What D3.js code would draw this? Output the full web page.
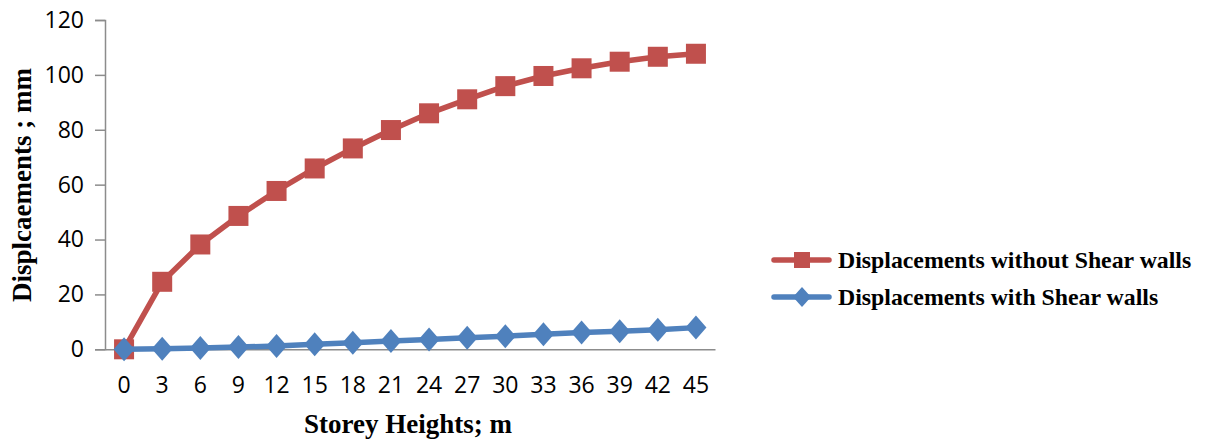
<!DOCTYPE html>
<html><head><meta charset="utf-8">
<script src="https://cdn.jsdelivr.net/npm/d3@7"></script>
<style>body{margin:0;background:#fff}svg{display:block}</style>
</head><body>
<svg id="c" width="1211" height="443"></svg>
<script>
const categories = ["0","3","6","9","12","15","18","21","24","27","30","33","36","39","42","45"];
const withoutWalls = [0, 24.6, 38.2, 48.6, 57.7, 65.9, 73.2, 79.9, 86.0, 91.1, 95.9, 99.6, 102.4, 104.8, 106.6, 107.7];
const withWalls = [0, 0.2, 0.5, 0.8, 1.2, 1.8, 2.4, 3.0, 3.6, 4.2, 4.8, 5.5, 6.1, 6.6, 7.1, 7.9];
const yTicks = [0, 20, 40, 60, 80, 100, 120];
const seriesNames = ["Displacements without Shear walls", "Displacements with Shear walls"];
const colors = ["#C0504D", "#4F81BD"];

const svg = d3.select("#c");
const x = d3.scaleBand().domain(categories).range([105, 715]);
const y = d3.scaleLinear().domain([0, 120]).range([349.3, 20]);
const tickFont = "'Open Sans', sans-serif";

// y axis
const ya = svg.append("g").attr("transform", "translate(105,0)")
  .call(d3.axisLeft(y).tickValues(yTicks).tickSize(10).tickPadding(11));
ya.select(".domain").attr("stroke", "#8c8c8c").attr("stroke-width", 1.5);
ya.selectAll(".tick line").attr("stroke", "#8c8c8c").attr("stroke-width", 1.5);
ya.selectAll("text").attr("font-family", tickFont).attr("font-size", 23).attr("fill", "#000");

// x axis
const xa = svg.append("g").attr("transform", "translate(0,349.3)")
  .call(d3.axisBottom(x).tickSize(0).tickPadding(27));
xa.select(".domain").attr("stroke", "#8c8c8c").attr("stroke-width", 1.5);
xa.selectAll("text").attr("font-family", tickFont).attr("font-size", 23).attr("fill", "#000");

const cx = d => x(d) + x.bandwidth() / 2;
const line = d3.line().x((d, i) => cx(categories[i])).y(d => y(d));

// red series
svg.append("path").datum(withoutWalls).attr("d", line).attr("fill", "none")
  .attr("stroke", colors[0]).attr("stroke-width", 5.5).attr("stroke-linejoin", "round");
svg.selectAll(".sq").data(withoutWalls).join("rect")
  .attr("x", (d, i) => cx(categories[i]) - 10).attr("y", d => y(d) - 10)
  .attr("width", 20).attr("height", 20).attr("fill", colors[0]);

// blue series
svg.append("path").datum(withWalls).attr("d", line).attr("fill", "none")
  .attr("stroke", colors[1]).attr("stroke-width", 5.5).attr("stroke-linejoin", "round");
const diamond = (px, py, rx, ry) => `M${px},${py - ry}L${px + rx},${py}L${px},${py + ry}L${px - rx},${py}Z`;
svg.selectAll(".dm").data(withWalls).join("path")
  .attr("d", (d, i) => diamond(cx(categories[i]), y(d), 10.5, 12)).attr("fill", colors[1]);

// axis titles
const serif = "'Liberation Serif', 'Times New Roman', serif";
svg.append("text").attr("x", 408).attr("y", 433).attr("text-anchor", "middle")
  .attr("font-family", serif).attr("font-weight", "bold").attr("font-size", 27)
  .text("Storey Heights; m");
svg.append("text").attr("transform", "translate(31,185) rotate(-90)").attr("text-anchor", "middle")
  .attr("font-family", serif).attr("font-weight", "bold").attr("font-size", 27)
  .text("Displcaements ; mm");

// legend
const legY = [260, 297];
seriesNames.forEach((name, i) => {
  const g = svg.append("g");
  g.append("line").attr("x1", 774).attr("x2", 829).attr("y1", legY[i]).attr("y2", legY[i])
    .attr("stroke", colors[i]).attr("stroke-width", 5.5).attr("stroke-linecap", "round");
  if (i === 0) g.append("rect").attr("x", 794).attr("y", legY[i] - 8).attr("width", 16).attr("height", 16).attr("fill", colors[i]);
  else g.append("path").attr("d", diamond(802, legY[i], 9, 10)).attr("fill", colors[i]);
  g.append("text").attr("x", 838).attr("y", legY[i] + 8).attr("font-family", serif)
    .attr("font-weight", "bold").attr("font-size", 23.8).text(name);
});
</script>
</body></html>
